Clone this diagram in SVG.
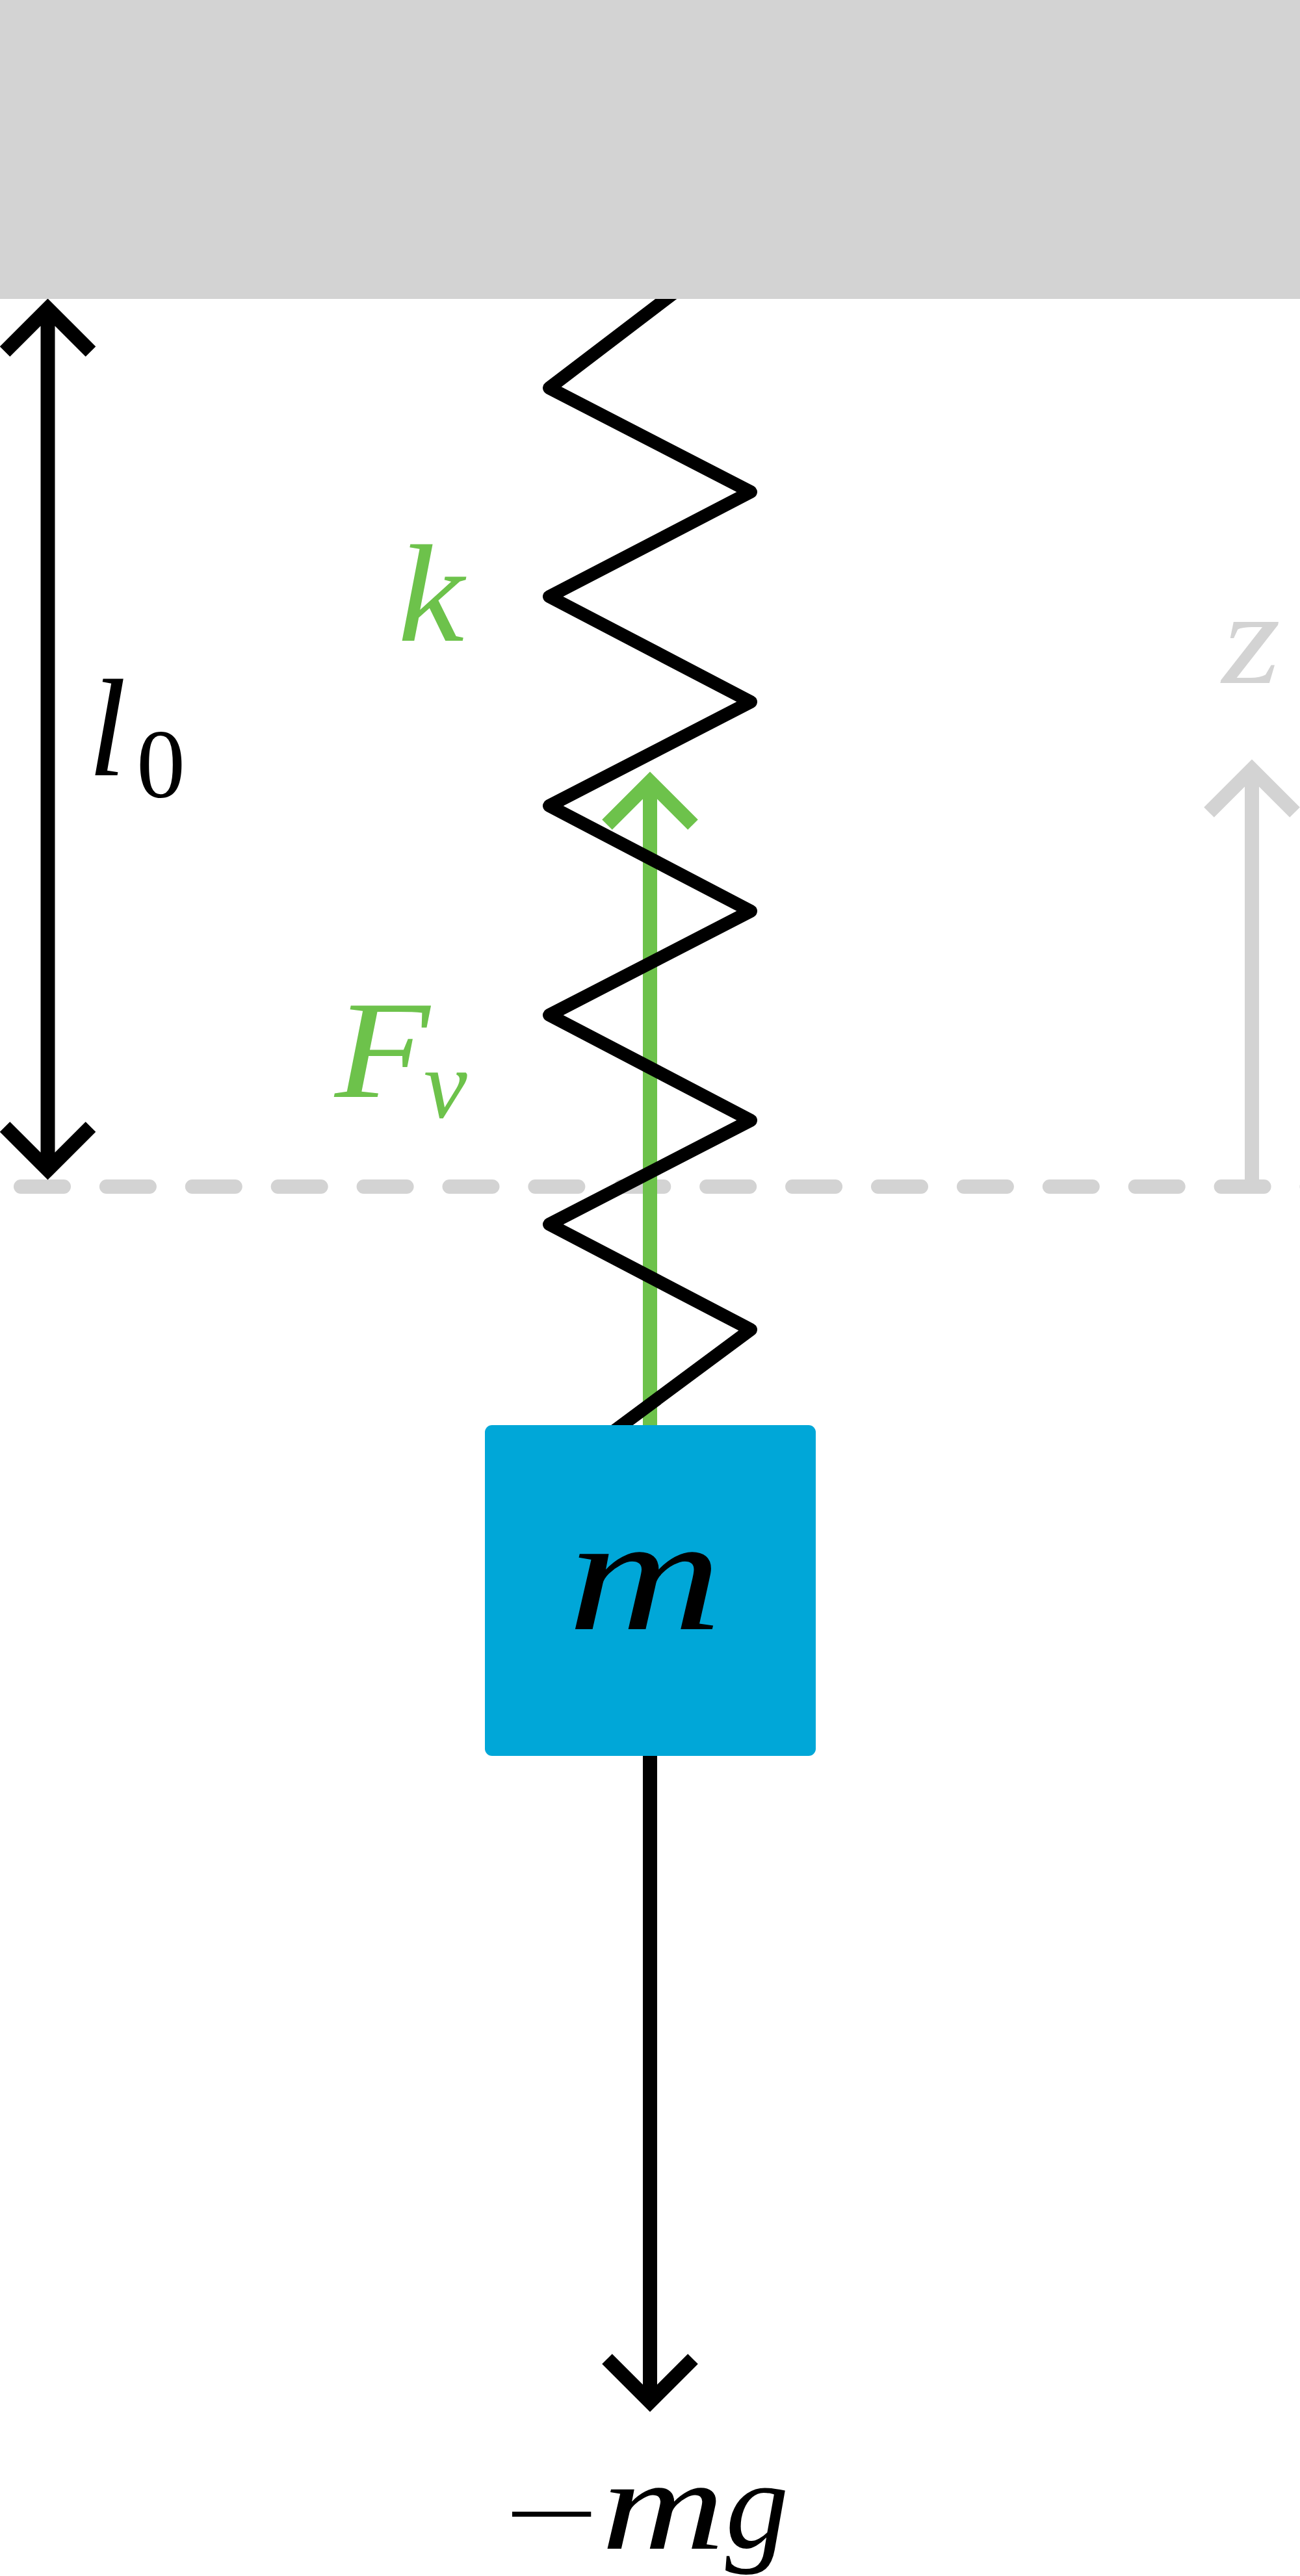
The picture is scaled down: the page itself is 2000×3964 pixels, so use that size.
<svg xmlns="http://www.w3.org/2000/svg" width="2000" height="3964" viewBox="0 0 2000 3964">
<style>
.ln{fill:none;stroke-width:22;stroke-linejoin:miter;stroke-miterlimit:10}
.k{stroke:#000}.g{stroke:#6DC24B}.y{stroke:#D3D3D3}
text{font-family:"Liberation Serif","DejaVu Serif",serif;font-size:214px;font-style:italic}
.sub{font-size:150px}
.up{font-style:normal}
</style>
<rect width="2000" height="3964" fill="#fff"/>
<g id="connectors">
<path id="reference-line" class="ln y" stroke-linecap="round" stroke-dasharray="66 65.9" d="M32 1826H2030"/>
<path id="z-arrow" class="ln y" d="M1926 1837V1184M1860 1250L1926 1184L1992 1250"/>
<path id="l0-arrow" class="ln k" d="M73.5 475V1800M7.5 541L73.5 475L139.5 541M7.5 1734L73.5 1800L139.5 1734"/>
<path id="force-arrow" class="ln g" d="M1000 2193V1203M934 1269L1000 1203L1066 1269"/>
<path id="spring" fill="none" stroke="#000" stroke-width="20" stroke-linejoin="round" d="M1051 440L845 597L1155 757L845 918L1155 1080L845 1240L1155 1402L845 1562L1155 1724L845 1884L1155 2046L930 2213"/>
<path id="weight-arrow" class="ln k" d="M1000 2702V3696M934 3630L1000 3696L1066 3630"/>
</g>
<g id="ground"><rect width="2000" height="460" fill="#D3D3D3"/></g>
<g id="mass">
<rect x="746" y="2193" width="509" height="509" rx="11" fill="#00A7D8"/>
<text x="873" y="2507" textLength="238" lengthAdjust="spacingAndGlyphs" style="font-size:252px">m</text>
</g>
<g id="label-l0"><text x="135" y="1193">l</text><text class="sub up" x="210" y="1227">0</text></g>
<g id="label-k"><text x="612" y="986" fill="#6DC24B" textLength="102" lengthAdjust="spacingAndGlyphs">k</text></g>
<g id="label-Fv"><text x="515" y="1688" fill="#6DC24B" textLength="146" lengthAdjust="spacingAndGlyphs">F</text><text class="sub" x="652" y="1720" fill="#6DC24B">v</text></g>
<g id="label-z"><text x="1880" y="1051" fill="#D3D3D3" textLength="90" lengthAdjust="spacingAndGlyphs" style="font-size:205px">z</text></g>
<g id="label-mg"><text class="up" x="775" y="3922" textLength="147" lengthAdjust="spacingAndGlyphs" style="font-size:160px">−</text><text x="925" y="3922" textLength="190" lengthAdjust="spacingAndGlyphs" style="font-size:199px">m</text><text x="1116" y="3920" style="font-size:195px">g</text></g>
</svg>
